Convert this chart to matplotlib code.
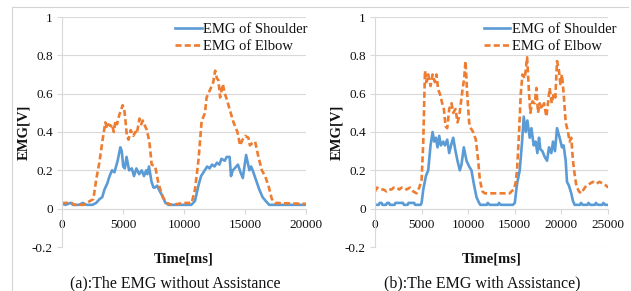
#!/usr/bin/env python3
"""EMG of shoulder / elbow, without and with assistance (two panels)."""

import matplotlib
matplotlib.use("Agg")
import matplotlib.pyplot as plt
from matplotlib.lines import Line2D

plt.rcParams['font.family'] = ['Liberation Serif', 'DejaVu Serif']

# (a) without assistance
a_sh_t = [0, 300, 700, 900, 1400, 1700, 2000, 2500, 2800, 3080, 3300, 3480, 3700, 3900,
          4100, 4300, 4560, 4780, 4900, 5020, 5150, 5290, 5500, 5720, 5900, 6100, 6320,
          6530, 6720, 6900, 7000, 7130, 7340, 7500, 7610, 7800, 8020, 8200, 8480, 8750,
          10600, 10900, 11180, 11400, 11700, 11900, 12100, 12300, 12500, 12700, 12900,
          13070, 13340, 13500, 13740, 13850, 14000, 14150, 14420, 14630, 14820, 15090,
          15360, 15500, 15630, 15900, 16170, 16440, 16700, 16980, 20000]
a_sh_v = [0.025, 0.02, 0.03, 0.02, 0.02, 0.03, 0.02, 0.02, 0.03, 0.05, 0.06, 0.10, 0.13, 0.17,
          0.20, 0.19, 0.25, 0.32, 0.30, 0.22, 0.21, 0.27, 0.20, 0.21, 0.17, 0.21, 0.18,
          0.20, 0.17, 0.20, 0.18, 0.22, 0.14, 0.11, 0.11, 0.12, 0.09, 0.07, 0.03, 0.02,
          0.02, 0.04, 0.12, 0.17, 0.20, 0.22, 0.21, 0.23, 0.22, 0.24, 0.23,
          0.26, 0.25, 0.27, 0.27, 0.17, 0.20, 0.21, 0.23, 0.19, 0.16, 0.28,
          0.20, 0.22, 0.20, 0.15, 0.10, 0.06, 0.04, 0.02, 0.02]

a_el_t = [0, 800, 1000, 1800, 2000, 2300, 2570, 2800, 3060, 3330, 3550, 3700, 3800, 4000,
          4100, 4250, 4380, 4510, 4700, 4870, 4970, 5100, 5200, 5320, 5450, 5630, 5850,
          6000, 6130, 6350, 6500, 6620, 6950, 7160, 7350, 7640, 7910, 8260, 8590, 9000,
          10000, 10630, 10900, 11180, 11450, 11600, 11720, 11850, 12000, 12270, 12400,
          12550, 12700, 12820, 12960, 13180, 13350, 13510, 13780, 14060, 14380, 14600,
          14800, 15010, 15280, 15400, 15560, 15830, 16100, 16380, 16650, 16920, 17200,
          17470, 20000]
a_el_v = [0.03, 0.03, 0.02, 0.02, 0.03, 0.04, 0.05, 0.15, 0.24, 0.36, 0.45, 0.42, 0.44, 0.43,
          0.44, 0.40, 0.46, 0.44, 0.49, 0.52, 0.54, 0.52, 0.46, 0.38, 0.36, 0.41, 0.38,
          0.40, 0.39, 0.47, 0.44, 0.46, 0.41, 0.35, 0.23, 0.22, 0.13, 0.06, 0.03, 0.02,
          0.03, 0.03, 0.10, 0.25, 0.46, 0.48, 0.50, 0.58, 0.60, 0.64, 0.66,
          0.72, 0.68, 0.67, 0.58, 0.65, 0.60, 0.57, 0.51, 0.45, 0.40, 0.33,
          0.36, 0.38, 0.37, 0.33, 0.34, 0.35, 0.27, 0.20, 0.17, 0.12, 0.05,
          0.03, 0.025]

# (b) with assistance
b_sh_t = [0, 400, 500, 700, 800, 1200, 1300, 1500, 1600, 2100, 2200, 3000, 3100, 3500, 3600,
          4200, 4300, 4900, 5000, 5180, 5460, 5710, 5960, 6180, 6350, 6530, 6710, 6890,
          7070, 7320, 7500, 7750, 7960, 8210, 8390, 8640, 8850, 9100, 9280, 9530, 9820,
          10100, 10350, 10600, 10890, 11170, 11300, 12000, 12100, 12300, 13200, 13300,
          13500, 14800, 15000, 15240, 15530, 15780, 15960, 16170, 16350, 16600, 16780,
          17030, 17240, 17420, 17600, 17740, 17960, 18210, 18460, 18670, 18920, 19100,
          19310, 19530, 19810, 20060, 20240, 20460, 20600, 20810, 21060, 21240, 21420,
          22000, 22100, 22300, 22800, 22900, 23100, 23600, 23700, 23900, 24400, 24500,
          24700, 25000]
b_sh_v = [0.02, 0.02, 0.03, 0.03, 0.02, 0.02, 0.03, 0.03, 0.02, 0.02, 0.03, 0.03, 0.02, 0.02, 0.03,
          0.03, 0.02, 0.02, 0.03, 0.10, 0.17, 0.20, 0.33, 0.40, 0.35, 0.37, 0.32, 0.38,
          0.33, 0.35, 0.33, 0.36, 0.29, 0.34, 0.37, 0.30, 0.25, 0.20, 0.23, 0.32, 0.25,
          0.22, 0.20, 0.13, 0.06, 0.03, 0.02, 0.02, 0.03, 0.02, 0.02, 0.03,
          0.02, 0.02, 0.03, 0.13, 0.20, 0.35, 0.48, 0.40, 0.46, 0.37, 0.42,
          0.33, 0.35, 0.29, 0.37, 0.31, 0.30, 0.27, 0.25, 0.32, 0.29, 0.35,
          0.30, 0.42, 0.37, 0.32, 0.33, 0.25, 0.14, 0.12, 0.08, 0.04, 0.02,
          0.02, 0.03, 0.02, 0.02, 0.03, 0.02, 0.02, 0.03, 0.02, 0.02, 0.03,
          0.02, 0.02]

b_el_t = [0, 200, 500, 900, 1250, 1500, 1790, 2000, 2320, 2600, 2860, 3100, 3390, 3750,
          4100, 4460, 4750, 5000, 5180, 5360, 5530, 5710, 5960, 6180, 6430, 6600, 6780,
          6960, 7210, 7390, 7570, 7750, 7960, 8210, 8390, 8640, 8850, 9030, 9210, 9390,
          9570, 9710, 9890, 10100, 10280, 10530, 10820, 11070, 11250, 11530, 11780, 13000,
          14000, 14460, 14640, 14890, 15070, 15240, 15460, 15640, 15820, 16070, 16320,
          16530, 16670, 16890, 17140, 17320, 17490, 17670, 17920, 18140, 18390, 18560,
          18740, 18960, 19170, 19350, 19530, 19740, 19890, 20060, 20240, 20460, 20710,
          20880, 21060, 21240, 21420, 21600, 21880, 22130, 22380, 22670, 23030, 23380,
          23740, 24100, 24450, 24810, 25000]
b_el_v = [0.09, 0.11, 0.10, 0.10, 0.09, 0.10, 0.10, 0.11, 0.11, 0.10, 0.11, 0.11, 0.10, 0.11,
          0.09, 0.08, 0.11, 0.15, 0.35, 0.72, 0.66, 0.70, 0.64, 0.70, 0.66, 0.70, 0.62,
          0.60, 0.55, 0.52, 0.43, 0.42, 0.52, 0.55, 0.50, 0.52, 0.45, 0.48, 0.55, 0.62,
          0.68, 0.77, 0.60, 0.45, 0.42, 0.40, 0.36, 0.25, 0.15, 0.09, 0.08, 0.08,
          0.08, 0.08, 0.09, 0.10, 0.13, 0.20, 0.40, 0.60, 0.70, 0.68, 0.79,
          0.60, 0.50, 0.56, 0.55, 0.63, 0.50, 0.55, 0.52, 0.55, 0.48, 0.55,
          0.63, 0.55, 0.60, 0.58, 0.77, 0.72, 0.65, 0.70, 0.60, 0.45, 0.40,
          0.35, 0.37, 0.25, 0.18, 0.12, 0.09, 0.08, 0.10, 0.12, 0.13, 0.14,
          0.13, 0.14, 0.13, 0.12, 0.11]

y_ticks = [-0.2, 0, 0.2, 0.4, 0.6, 0.8, 1]
y_labels = ['-0.2', '0', '0.2', '0.4', '0.6', '0.8', '1']
series_labels = ['EMG of Shoulder', 'EMG of Elbow']
captions = ['(a):The EMG without Assistance', '(b):The EMG with Assistance)']

BLUE = '#5B9BD5'
ORANGE = '#ED7D31'
GRID = '#D9D9D9'
TEXT = '#111111'

W, H = 631, 291
fig = plt.figure(figsize=(W / 100, H / 100), dpi=100)

# thin outer frame
fig.add_artist(Line2D([12 / W, 628 / W], [1 - 7 / H, 1 - 7 / H], color='#D4D4D4', lw=0.8))
fig.add_artist(Line2D([12 / W, 12 / W], [0, 1 - 7 / H], color='#D4D4D4', lw=0.8))


def px_axes(x0, x1, ytop, ybot):
    return fig.add_axes([x0 / W, 1 - ybot / H, (x1 - x0) / W, (ybot - ytop) / H])


panels = [
    dict(box=(62, 306, 17, 247), xmax=20000, xstep=5000,
         sh=(a_sh_t, a_sh_v), el=(a_el_t, a_el_v), leg=(1.03, 1.0), ylab=-0.13),
    dict(box=(375, 608, 17, 247), xmax=25000, xstep=5000,
         sh=(b_sh_t, b_sh_v), el=(b_el_t, b_el_v), leg=(1.06, 1.0), ylab=-0.135),
]

for p in panels:
    ax = px_axes(*p['box'])
    ax.plot(*p['sh'], color=BLUE, lw=1.9, label=series_labels[0])
    ax.plot(*p['el'], color=ORANGE, lw=1.9, dashes=(2.3, 1.2), label=series_labels[1])

    ax.set_xlim(0, p['xmax'])
    ax.set_ylim(-0.2, 1)
    ax.set_xticks(range(0, p['xmax'] + 1, p['xstep']))
    ax.set_yticks(y_ticks)
    ax.set_yticklabels(y_labels)
    ax.grid(axis='y', color=GRID, lw=0.8)
    ax.set_axisbelow(True)

    for s in ('top', 'right'):
        ax.spines[s].set_visible(False)
    ax.spines['bottom'].set_position(('data', 0))
    ax.spines['bottom'].set_color(GRID)
    ax.spines['left'].set_color(GRID)
    ax.tick_params(axis='both', colors=GRID, labelcolor=TEXT, labelsize=9.5,
                   length=3.5, width=0.8)
    ax.tick_params(axis='x', pad=4)
    ax.tick_params(axis='y', pad=3)

    ax.set_xlabel('Time[ms]', fontsize=10.5, fontweight='bold', color=TEXT)
    ax.xaxis.set_label_coords(0.5, -0.025)
    ax.set_ylabel('EMG[V]', fontsize=10.5, fontweight='bold', color=TEXT)
    ax.yaxis.set_label_coords(p['ylab'], 0.5)

    leg = ax.legend(loc='upper right', bbox_to_anchor=p['leg'], frameon=False, fontsize=10.5,
                    handlelength=1.8, handletextpad=0.1, labelspacing=0.25,
                    borderaxespad=0.2, borderpad=0.2)
    for t in leg.get_texts():
        t.set_color(TEXT)

fig.text(175 / W, 1 - 283 / H, captions[0], ha='center', va='center', fontsize=11.5, color=TEXT)
fig.text(482 / W, 1 - 283 / H, captions[1], ha='center', va='center', fontsize=11.5, color=TEXT)

fig.savefig('out.png', dpi=100)
